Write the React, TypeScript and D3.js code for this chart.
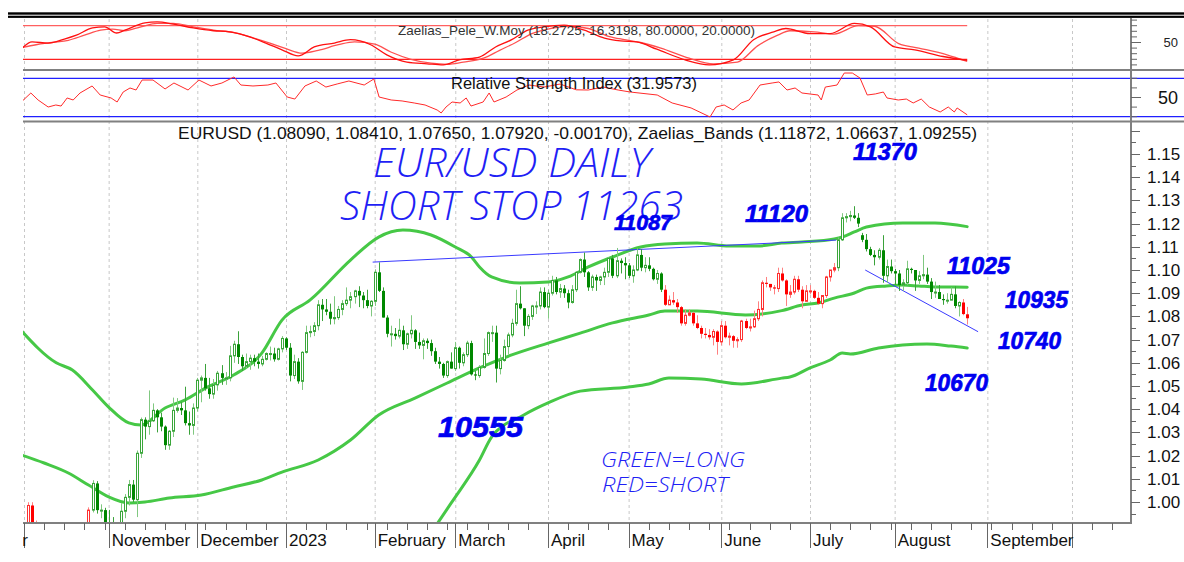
import React from "react";
import * as d3 from "d3";

// ================= DATA =================
// Daily EUR/USD candles [open, high, low, close], one row per weekday starting Mon 3 Oct 2022
const OCT_2022 = [
  [0.9800, 0.9854, 0.9751, 0.9825], [0.9825, 0.9999, 0.9815, 0.9985], [0.9985, 0.9999, 0.9835, 0.9880],
  [0.9880, 0.9920, 0.9780, 0.9793], [0.9793, 0.9826, 0.9731, 0.9740], [0.9740, 0.9747, 0.9670, 0.9700],
  [0.9700, 0.9750, 0.9632, 0.9705], [0.9705, 0.9745, 0.9667, 0.9705], [0.9705, 0.9807, 0.9632, 0.9780],
  [0.9780, 0.9800, 0.9711, 0.9720], [0.9720, 0.9850, 0.9715, 0.9840], [0.9840, 0.9875, 0.9800, 0.9855],
  [0.9855, 0.9862, 0.9760, 0.9775], [0.9775, 0.9845, 0.9760, 0.9780], [0.9780, 0.9870, 0.9705, 0.9860],
  [0.9860, 0.9900, 0.9810, 0.9880], [0.9880, 0.9977, 0.9860, 0.9965], [0.9965, 1.0094, 0.9955, 1.0080],
  [1.0080, 1.0090, 0.9950, 0.9965], [0.9965, 0.9990, 0.9930, 0.9965], [0.9965, 0.9975, 0.9870, 0.9880],
];
const NOV_2022 = [
  [0.9880, 0.9966, 0.9850, 0.9875], [0.9875, 0.9935, 0.9800, 0.9820], [0.9820, 0.9830, 0.9730, 0.9750],
  [0.9750, 0.9995, 0.9745, 0.9960], [0.9960, 1.0034, 0.9930, 1.0020], [1.0020, 1.0095, 0.9985, 1.0075],
  [1.0075, 1.0095, 1.0000, 1.0010], [1.0010, 1.0222, 0.9935, 1.0210], [1.0210, 1.0364, 1.0190, 1.0355],
  [1.0355, 1.0365, 1.0270, 1.0325], [1.0325, 1.0481, 1.0290, 1.0350], [1.0350, 1.0425, 1.0345, 1.0395],
  [1.0395, 1.0400, 1.0300, 1.0365], [1.0365, 1.0385, 1.0305, 1.0325], [1.0325, 1.0330, 1.0225, 1.0245],
  [1.0245, 1.0310, 1.0225, 1.0305], [1.0305, 1.0450, 1.0280, 1.0395], [1.0395, 1.0448, 1.0385, 1.0405],
  [1.0405, 1.0430, 1.0375, 1.0395], [1.0395, 1.0497, 1.0330, 1.0340], [1.0340, 1.0390, 1.0290, 1.0330],
  [1.0330, 1.0425, 1.0290, 1.0405],
];
const DEC_2022 = [
  [1.0405, 1.0535, 1.0390, 1.0525], [1.0525, 1.0545, 1.0430, 1.0535], [1.0535, 1.0595, 1.0480, 1.0490],
  [1.0490, 1.0535, 1.0445, 1.0465], [1.0465, 1.0530, 1.0445, 1.0505], [1.0505, 1.0565, 1.0480, 1.0555],
  [1.0555, 1.0590, 1.0505, 1.0535], [1.0535, 1.0560, 1.0505, 1.0535], [1.0535, 1.0673, 1.0520, 1.0630],
  [1.0630, 1.0695, 1.0600, 1.0680], [1.0680, 1.0736, 1.0595, 1.0625], [1.0625, 1.0635, 1.0565, 1.0585],
  [1.0585, 1.0640, 1.0575, 1.0605], [1.0605, 1.0635, 1.0570, 1.0620], [1.0620, 1.0635, 1.0585, 1.0605],
  [1.0605, 1.0640, 1.0575, 1.0595], [1.0595, 1.0630, 1.0585, 1.0615], [1.0615, 1.0645, 1.0610, 1.0640],
  [1.0640, 1.0670, 1.0610, 1.0640], [1.0640, 1.0665, 1.0605, 1.0615], [1.0615, 1.0665, 1.0610, 1.0660],
  [1.0660, 1.0715, 1.0645, 1.0705],
];
const JAN_2023 = [
  [1.0705, 1.0710, 1.0655, 1.0665], [1.0665, 1.0685, 1.0520, 1.0545], [1.0545, 1.0635, 1.0530, 1.0605],
  [1.0605, 1.0620, 1.0510, 1.0520], [1.0520, 1.0650, 1.0483, 1.0645], [1.0645, 1.0760, 1.0640, 1.0730],
  [1.0730, 1.0760, 1.0710, 1.0735], [1.0735, 1.0775, 1.0715, 1.0760], [1.0760, 1.0870, 1.0740, 1.0850],
  [1.0850, 1.0875, 1.0780, 1.0830], [1.0830, 1.0875, 1.0805, 1.0820], [1.0820, 1.0855, 1.0765, 1.0790],
  [1.0790, 1.0887, 1.0766, 1.0795], [1.0795, 1.0845, 1.0785, 1.0830], [1.0830, 1.0870, 1.0805, 1.0855],
  [1.0855, 1.0925, 1.0845, 1.0870], [1.0870, 1.0905, 1.0835, 1.0885], [1.0885, 1.0915, 1.0855, 1.0910],
  [1.0910, 1.0930, 1.0840, 1.0890], [1.0890, 1.0905, 1.0835, 1.0870], [1.0870, 1.0915, 1.0835, 1.0845],
  [1.0845, 1.0870, 1.0800, 1.0865],
];
const FEB_2023 = [
  [1.0865, 1.1003, 1.0845, 1.0990], [1.0990, 1.1033, 1.0905, 1.0910], [1.0910, 1.0925, 1.0795, 1.0795],
  [1.0795, 1.0805, 1.0710, 1.0725], [1.0725, 1.0760, 1.0670, 1.0725], [1.0725, 1.0750, 1.0700, 1.0715],
  [1.0715, 1.0790, 1.0705, 1.0740], [1.0740, 1.0760, 1.0655, 1.0680], [1.0680, 1.0730, 1.0660, 1.0725],
  [1.0725, 1.0805, 1.0705, 1.0740], [1.0740, 1.0745, 1.0660, 1.0690], [1.0690, 1.0730, 1.0660, 1.0675],
  [1.0675, 1.0705, 1.0615, 1.0695], [1.0695, 1.0705, 1.0660, 1.0685], [1.0685, 1.0700, 1.0630, 1.0650],
  [1.0650, 1.0665, 1.0595, 1.0605], [1.0605, 1.0625, 1.0575, 1.0595], [1.0595, 1.0600, 1.0535, 1.0545],
  [1.0545, 1.0610, 1.0535, 1.0605], [1.0605, 1.0645, 1.0575, 1.0575],
];
const MAR_2023 = [
  [1.0575, 1.0690, 1.0565, 1.0665], [1.0665, 1.0670, 1.0575, 1.0600], [1.0600, 1.0645, 1.0585, 1.0635],
  [1.0635, 1.0695, 1.0625, 1.0685], [1.0685, 1.0695, 1.0545, 1.0550], [1.0550, 1.0565, 1.0525, 1.0545],
  [1.0545, 1.0590, 1.0535, 1.0580], [1.0580, 1.0705, 1.0575, 1.0640], [1.0640, 1.0735, 1.0630, 1.0730],
  [1.0730, 1.0760, 1.0690, 1.0730], [1.0730, 1.0760, 1.0515, 1.0575], [1.0575, 1.0635, 1.0550, 1.0610],
  [1.0610, 1.0700, 1.0605, 1.0670], [1.0670, 1.0730, 1.0635, 1.0720], [1.0720, 1.0790, 1.0710, 1.0770],
  [1.0770, 1.0915, 1.0760, 1.0855], [1.0855, 1.0930, 1.0830, 1.0835], [1.0835, 1.0835, 1.0715, 1.0760],
  [1.0760, 1.0810, 1.0745, 1.0800], [1.0800, 1.0850, 1.0785, 1.0845], [1.0845, 1.0865, 1.0810, 1.0845],
  [1.0845, 1.0925, 1.0830, 1.0905], [1.0905, 1.0925, 1.0835, 1.0840],
];
const APR_2023 = [
  [1.0840, 1.0915, 1.0790, 1.0900], [1.0900, 1.0975, 1.0890, 1.0955], [1.0955, 1.0970, 1.0895, 1.0905],
  [1.0905, 1.0940, 1.0880, 1.0920], [1.0920, 1.0935, 1.0880, 1.0900], [1.0900, 1.0915, 1.0835, 1.0860],
  [1.0860, 1.0935, 1.0855, 1.0915], [1.0915, 1.0995, 1.0905, 1.0990], [1.0990, 1.1050, 1.0985, 1.1045],
  [1.1045, 1.1075, 1.0970, 1.0990], [1.0990, 1.0995, 1.0910, 1.0925], [1.0925, 1.0980, 1.0910, 1.0970],
  [1.0970, 1.0980, 1.0910, 1.0955], [1.0955, 1.0975, 1.0935, 1.0970], [1.0970, 1.1010, 1.0935, 1.0990],
  [1.0990, 1.1055, 1.0970, 1.1050], [1.1050, 1.1065, 1.0965, 1.0975], [1.0975, 1.1095, 1.0965, 1.1040],
  [1.1040, 1.1050, 1.0985, 1.1030], [1.1030, 1.1055, 1.0960, 1.1020],
];
const MAY_2023 = [
  [1.1020, 1.1030, 1.0965, 1.0975], [1.0975, 1.1020, 1.0945, 1.1000], [1.1000, 1.1093, 1.0995, 1.1065],
  [1.1065, 1.1090, 1.0995, 1.1010], [1.1010, 1.1055, 1.0990, 1.1020], [1.1020, 1.1055, 1.0995, 1.1005],
  [1.1005, 1.1010, 1.0955, 1.0960], [1.0960, 1.1000, 1.0940, 1.0985], [1.0985, 1.0990, 1.0905, 1.0915],
  [1.0915, 1.0935, 1.0845, 1.0850], [1.0850, 1.0890, 1.0850, 1.0870], [1.0870, 1.0905, 1.0850, 1.0860],
  [1.0860, 1.0875, 1.0815, 1.0840], [1.0840, 1.0845, 1.0760, 1.0770], [1.0770, 1.0830, 1.0760, 1.0805],
  [1.0805, 1.0830, 1.0800, 1.0815], [1.0815, 1.0820, 1.0760, 1.0770], [1.0770, 1.0805, 1.0745, 1.0750],
  [1.0750, 1.0760, 1.0705, 1.0725], [1.0725, 1.0750, 1.0705, 1.0720], [1.0720, 1.0745, 1.0700, 1.0710],
  [1.0710, 1.0745, 1.0675, 1.0735], [1.0735, 1.0740, 1.0635, 1.0690],
];
const JUN_2023 = [
  [1.0690, 1.0780, 1.0675, 1.0760], [1.0760, 1.0780, 1.0705, 1.0710], [1.0710, 1.0730, 1.0675, 1.0715],
  [1.0715, 1.0720, 1.0665, 1.0695], [1.0695, 1.0710, 1.0665, 1.0700], [1.0700, 1.0785, 1.0690, 1.0780],
  [1.0780, 1.0790, 1.0745, 1.0750], [1.0750, 1.0790, 1.0735, 1.0755], [1.0755, 1.0825, 1.0750, 1.0790],
  [1.0790, 1.0865, 1.0780, 1.0830], [1.0830, 1.0955, 1.0800, 1.0945], [1.0945, 1.0970, 1.0925, 1.0940],
  [1.0940, 1.0940, 1.0910, 1.0925], [1.0925, 1.0935, 1.0895, 1.0920], [1.0920, 1.1010, 1.0905, 1.0985],
  [1.0985, 1.1010, 1.0950, 1.0955], [1.0955, 1.0960, 1.0845, 1.0895], [1.0895, 1.0935, 1.0880, 1.0905],
  [1.0905, 1.0975, 1.0895, 1.0960], [1.0960, 1.0975, 1.0905, 1.0915], [1.0915, 1.0930, 1.0835, 1.0865],
  [1.0865, 1.0935, 1.0865, 1.0910],
];
const JUL_2023 = [
  [1.0910, 1.0935, 1.0895, 1.0910], [1.0910, 1.0915, 1.0875, 1.0880], [1.0880, 1.0905, 1.0850, 1.0855],
  [1.0855, 1.0890, 1.0835, 1.0890], [1.0890, 1.0975, 1.0880, 1.0970], [1.0970, 1.1000, 1.0950, 1.1000],
  [1.1000, 1.1030, 1.0990, 1.1010], [1.1010, 1.1140, 1.0995, 1.1130], [1.1130, 1.1245, 1.1125, 1.1225],
  [1.1225, 1.1245, 1.1205, 1.1230], [1.1230, 1.1255, 1.1210, 1.1235], [1.1235, 1.1275, 1.1220, 1.1225],
  [1.1225, 1.1245, 1.1185, 1.1200], [1.1150, 1.1160, 1.1120, 1.1130], [1.1130, 1.1155, 1.1080, 1.1090],
  [1.1090, 1.1100, 1.1060, 1.1065], [1.1065, 1.1085, 1.1020, 1.1055], [1.1055, 1.1095, 1.1045, 1.1085],
  [1.1085, 1.1150, 1.0945, 1.0975], [1.0975, 1.1045, 1.0945, 1.1015], [1.1015, 1.1045, 1.0985, 1.0995],
];
const AUG_2023 = [
  [1.0995, 1.1005, 1.0935, 1.0985], [1.0985, 1.1000, 1.0910, 1.0935], [1.0935, 1.0960, 1.0910, 1.0945],
  [1.0945, 1.1040, 1.0935, 1.1005], [1.1005, 1.1010, 1.0985, 1.1000], [1.1000, 1.1000, 1.0910, 1.0955],
  [1.0955, 1.0995, 1.0940, 1.0975], [1.0975, 1.1065, 1.0960, 1.0980], [1.0980, 1.1010, 1.0940, 1.0950],
  [1.0950, 1.0965, 1.0875, 1.0905], [1.0905, 1.0950, 1.0880, 1.0905], [1.0905, 1.0935, 1.0875, 1.0875],
  [1.0875, 1.0895, 1.0850, 1.0870], [1.0870, 1.0900, 1.0855, 1.0870], [1.0870, 1.0925, 1.0870, 1.0895],
  [1.0895, 1.0930, 1.0835, 1.0845], [1.0845, 1.0865, 1.0800, 1.0860], [1.0860, 1.0875, 1.0805, 1.0810],
  [1.0809, 1.0841, 1.0765, 1.0792],
];
const CANDLES = [
  ...OCT_2022, ...NOV_2022, ...DEC_2022, ...JAN_2023, ...FEB_2023, ...MAR_2023,
  ...APR_2023, ...MAY_2023, ...JUN_2023, ...JUL_2023, ...AUG_2023,
];

// Periods with a short signal (red candles); otherwise long (green)
const SHORT_PERIODS = [
  ["2022-10-03", "2022-10-25"],
  ["2023-05-12", "2023-07-11"],
  ["2023-08-24", "2023-08-25"],
];

// Zaelias bands: [trading day number, value]
const BAND_UPPER = [
  [-1, 1.0745], [8, 1.06], [12, 1.0569], [17, 1.0483], [21, 1.0409], [26, 1.0341], [29, 1.0332],
  [35, 1.0405], [40, 1.044], [45, 1.0491], [52, 1.0547], [59, 1.0642], [64, 1.0784], [71, 1.0871],
  [81, 1.1043], [88, 1.1142], [94, 1.1172], [101, 1.1151], [107, 1.1099], [111, 1.1056], [113, 1.1013],
  [116, 1.097], [123, 1.0944], [130, 1.0948], [135, 1.097], [140, 1.1013], [146, 1.1056], [153, 1.1099],
  [159, 1.1112], [167, 1.1116], [175, 1.1103], [182, 1.1103], [188, 1.1116], [193, 1.1121],
  [201, 1.1134], [203, 1.1142], [206, 1.1164], [209, 1.1185], [218, 1.1203], [226, 1.1203], [234, 1.1187],
];
const BAND_MIDDLE = [
  [-1, 1.0205], [5, 1.0168], [11, 1.0125], [16, 1.0073], [21, 1.0022], [26, 0.9996], [30, 1.0],
  [36, 1.0017], [44, 1.003], [52, 1.0065], [59, 1.0095], [64, 1.0129], [73, 1.0181], [81, 1.0267],
  [88, 1.0375], [97, 1.0448], [105, 1.0513], [113, 1.0578], [121, 1.0634], [130, 1.0685], [138, 1.0728],
  [146, 1.0772], [155, 1.0806], [159, 1.0823], [167, 1.0823], [179, 1.0806], [188, 1.0825], [193, 1.0849],
  [197, 1.0858], [201, 1.0879], [206, 1.0901], [209, 1.0922], [214, 1.0931], [218, 1.0935], [222, 1.0931],
  [226, 1.0927], [234, 1.0926],
];
const BAND_LOWER = [
  [101.5, 0.988], [106, 0.9996], [113, 1.0181], [116, 1.028], [124, 1.0375], [130, 1.0427], [138, 1.0478],
  [150, 1.0496], [155, 1.0509], [160, 1.0534], [168, 1.053], [178, 1.0509], [188, 1.0534], [190, 1.0539],
  [195, 1.0578], [200, 1.0612], [203, 1.0642], [205, 1.0638], [212, 1.0664], [218, 1.0677], [224, 1.0681],
  [230, 1.0672], [234, 1.0664],
];

// Zaelias_Pele_W.Moy oscillator: [trading day number, value]
const PELE_FAST = [
  [-1, 36], [2, 51], [6, 49], [10, 56], [13, 63], [17, 76], [20, 78], [23, 67], [25, 72], [30, 85],
  [33, 87], [37, 83], [42, 76], [47, 71], [51, 69], [56, 60], [60, 49], [64, 37], [68, 26], [72, 42],
  [77, 49], [81, 55], [86, 46], [90, 28], [95, 15], [100, 12], [104, 10], [108, 19], [113, 24], [117, 42],
  [121, 55], [125, 72], [129, 78], [134, 81], [139, 72], [144, 58], [148, 53], [152, 51], [157, 38],
  [164, 19], [170, 10], [176, 19], [181, 55], [186, 69], [189, 75], [195, 66], [200, 66], [206, 84],
  [210, 78], [216, 42], [221, 37], [228, 25], [234, 18.27],
];
const PELE_SLOW = [
  [-1, 40], [3, 46], [7, 50], [11, 54], [15, 63], [19, 72], [22, 74], [25, 71], [29, 78], [33, 84],
  [37, 84], [42, 78], [47, 72], [52, 68], [57, 58], [61, 49], [65, 39], [69, 31], [73, 36], [78, 46],
  [82, 51], [87, 47], [91, 33], [96, 20], [101, 13], [105, 11], [109, 15], [114, 22], [118, 36], [122, 50],
  [126, 66], [130, 74], [135, 79], [140, 75], [145, 61], [149, 55], [153, 50], [158, 40], [165, 22],
  [171, 12], [177, 15], [182, 44], [187, 63], [190, 71], [196, 69], [201, 65], [207, 80], [211, 79],
  [217, 48], [222, 40], [229, 28], [234, 16.32],
];

// Relative Strength Index: [trading day number, value]
const RSI = [
  [-1, 44], [1.7, 54.7], [3.5, 47.4], [6, 40.1], [7.9, 42.2], [9.2, 41.1], [10.7, 49.5], [12.2, 47.4],
  [13.9, 54.7], [16.9, 62], [18.9, 52.6], [21.6, 49.5], [23.1, 45.3], [24.6, 55.7], [26.3, 59.9],
  [27.8, 57.8], [29.3, 68.2], [32, 68.2], [35, 58.9], [37.2, 65.1], [40.7, 57.8], [43.4, 68.2],
  [46.4, 62], [49.1, 65.1], [52.1, 71.4], [53.8, 63], [56.8, 62], [60.5, 63], [62.5, 65.1], [65.3, 50.5],
  [67.2, 48.4], [69.7, 62], [72.5, 67.2], [74.9, 60.9], [77.7, 64.1], [80.6, 67.2], [84.4, 63],
  [86.8, 69.3], [88.1, 50.5], [91.1, 47.4], [93.8, 46.4], [96.8, 44.3], [99.5, 42.2], [102.5, 37],
  [103.5, 33.9], [104.7, 40.1], [106.2, 45.3], [108.2, 44.3], [109.7, 49.5], [110.9, 41.1], [113.9, 45.3],
  [115.4, 54.7], [116.6, 45.3], [119.6, 50.5], [122.3, 57.8], [125.3, 63], [129, 60.9], [133, 64],
  [137, 58], [140, 57.8], [143.7, 60.9], [147.4, 57.8], [150.4, 55.7], [157.1, 52.6], [160.8, 44.3],
  [165.5, 39.1], [170.2, 29.7], [171.7, 40.1], [173.7, 42.2], [175.9, 37], [177.9, 44.3], [179.9, 47.4],
  [182.6, 63], [185.6, 65.1], [187.3, 66.2], [189.3, 57.8], [191.3, 59.9], [193, 54.7], [197, 52.6],
  [197.8, 47.4], [198.8, 60.9], [201.7, 63], [203.5, 75.5], [205.5, 75.5], [207.4, 70.3], [209.2, 52.6],
  [211.2, 53.7], [213.2, 55.7], [214.1, 49.5], [216.9, 47.4], [218.9, 48.4], [220.6, 44.3], [222.6, 48.4],
  [224.6, 40.1], [227.3, 34.9], [229.3, 40.1], [230.8, 34.9], [231.5, 39.1], [234, 31.96],
];

// Blue trendlines: [[day, value], [day, value]]
const TRENDLINES = [
  [[86.5, 1.1034], [201.5, 1.1129]],
  [[208.7, 1.1], [236.7, 1.0734]],
];

// Axis labels
const MONTHS = [
  ["October", "2022-10-03"], ["November", "2022-11-01"], ["December", "2022-12-01"], ["2023", "2023-01-02"],
  ["February", "2023-02-01"], ["March", "2023-03-01"], ["April", "2023-04-03"], ["May", "2023-05-01"],
  ["June", "2023-06-01"], ["July", "2023-07-03"], ["August", "2023-08-01"], ["September", "2023-09-01"],
  ["", "2023-10-02"],
];
const PRICE_TICKS = [1.0, 1.01, 1.02, 1.03, 1.04, 1.05, 1.06, 1.07, 1.08, 1.09, 1.1, 1.11, 1.12, 1.13, 1.14, 1.15];
const PELE_LEVELS = [80, 20];
const RSI_LEVELS = [70, 30];

const HEADER = "EURUSD (1.08090, 1.08410, 1.07650, 1.07920, -0.00170), Zaelias_Bands (1.11872, 1.06637, 1.09255)";
const PELE_TITLE = "Zaelias_Pele_W.Moy (18.2725, 16.3198, 80.0000, 20.0000)";
const RSI_TITLE = "Relative Strength Index (31.9573)";

// ================= HELPERS =================
function tradingDay(s: string): number {
  const [Y, M, D] = s.split("-").map(Number);
  const days = Math.round((Date.UTC(Y, M - 1, D) - Date.UTC(2022, 9, 3)) / 86400000);
  return Math.floor(days / 7) * 5 + Math.min(days % 7, 5);
}

const PLOT_L = 23;
const AXIS_X = 1131;
const MAIN_TOP = 122;
const MAIN_BOT = 523;

export default function App() {
  const x = d3.scaleLinear().domain([0, 260]).range([24, 1072]);
  const y = d3.scaleLinear().domain([1.0, 1.15]).range([502, 154]);
  const yP = d3.scaleLinear().domain([20, 80]).range([59.3, 25.7]);
  const yR = d3.scaleLinear().domain([30, 70]).range([116.7, 78.3]);

  const bandLine = d3.line<number[]>().x((d) => x(d[0])).y((d) => y(d[1])).curve(d3.curveMonotoneX);
  const peleLine = d3.line<number[]>().x((d) => x(d[0])).y((d) => yP(d[1])).curve(d3.curveMonotoneX);
  const rsiLine = d3.line<number[]>().x((d) => x(d[0])).y((d) => yR(d[1]));

  const shortRanges = SHORT_PERIODS.map(([a, b]) => [tradingDay(a), tradingDay(b)]);
  const isShort = (i: number) => shortRanges.some(([a, b]) => i >= a && i <= b);

  const monthTicks = MONTHS.map(([label, d]) => ({ label, i: tradingDay(d) }));
  const weekTicks = d3.range(0, 275, 5).filter((i) => x(i) < AXIS_X - 2);
  const minorPrice = d3.range(0.99, 1.161, 0.005).filter((v) => y(v) > MAIN_TOP + 2 && y(v) < MAIN_BOT);

  const font = "'Liberation Sans', Arial, sans-serif";
  const hand = "'Open Sans', 'DejaVu Sans', sans-serif";
  const blue = "#1f1ff5";

  const boldNums = [
    { t: "11370", x: 853, y: 160, w: 64, s: 23 },
    { t: "11120", x: 745, y: 222, w: 63, s: 23 },
    { t: "11087", x: 614, y: 230, w: 58, s: 22 },
    { t: "11025", x: 947, y: 274, w: 63, s: 23 },
    { t: "10935", x: 1005, y: 308, w: 63, s: 23 },
    { t: "10740", x: 998, y: 349, w: 63, s: 23 },
    { t: "10670", x: 925, y: 391, w: 63, s: 23 },
    { t: "10555", x: 438, y: 437, w: 85, s: 30 },
  ];

  return (
    <svg width={1184} height={562} style={{ position: "absolute", left: 0, top: 0, background: "#fff" }}>
      <defs>
        <clipPath id="mainClip"><rect x={PLOT_L} y={MAIN_TOP + 1} width={AXIS_X - PLOT_L - 1} height={MAIN_BOT - MAIN_TOP - 2} /></clipPath>
        <clipPath id="peleClip"><rect x={PLOT_L} y={18} width={AXIS_X - PLOT_L - 1} height={51} /></clipPath>
        <clipPath id="rsiClip"><rect x={PLOT_L} y={71} width={AXIS_X - PLOT_L - 1} height={50} /></clipPath>
        <clipPath id="labelClip"><rect x={PLOT_L} y={MAIN_BOT} width={1184 - PLOT_L} height={40} /></clipPath>
      </defs>
      <rect x={0} y={0} width={1184} height={562} fill="#fff" />

      {/* top black double rule */}
      <rect x={8} y={12.3} width={1176} height={2.4} fill="#000" />
      <rect x={8} y={15.7} width={1176} height={2.2} fill="#000" />

      {/* month grid */}
      {monthTicks.map((m, k) => (
        <line key={"g" + k} x1={x(m.i) + 0.5} x2={x(m.i) + 0.5} y1={19} y2={MAIN_BOT} stroke="#c8c8c8" strokeDasharray="3,3" />
      ))}

      {/* ===== Pele panel ===== */}
      <g clipPath="url(#peleClip)">
        {PELE_LEVELS.map((lv, k) => (
          <line key={k} x1={PLOT_L} x2={x(234)} y1={yP(lv)} y2={yP(lv)} stroke={k === 0 ? "#ff6060" : "#ff2020"} strokeWidth={1.3} />
        ))}
        <path d={peleLine(PELE_SLOW) || ""} fill="none" stroke="#ff5050" strokeWidth={1.3} />
        <path d={peleLine(PELE_FAST) || ""} fill="none" stroke="#ff1010" strokeWidth={1.3} />
      </g>
      <text x={398} y={34.5} fontFamily={font} fontSize={13.5} fill="#333" textLength={357} lengthAdjust="spacingAndGlyphs">{PELE_TITLE}</text>
      <line x1={PLOT_L} x2={1184} y1={70} y2={70} stroke="#808080" strokeWidth={2} />

      {/* ===== RSI panel ===== */}
      {RSI_LEVELS.map((lv, k) => (
        <line key={k} x1={PLOT_L} x2={1184} y1={yR(lv)} y2={yR(lv)} stroke="#2020ff" strokeWidth={1.2} />
      ))}
      <g clipPath="url(#rsiClip)">
        <path d={rsiLine(RSI) || ""} fill="none" stroke="#ff2a2a" strokeWidth={1} />
      </g>
      <text x={451} y={88.5} fontFamily={font} fontSize={16.5} fill="#111" textLength={246} lengthAdjust="spacingAndGlyphs">{RSI_TITLE}</text>
      <line x1={PLOT_L} x2={1184} y1={121.5} y2={121.5} stroke="#808080" strokeWidth={2} />

      {/* ===== Main panel ===== */}
      <text x={178} y={139} fontFamily={font} fontSize={17} fill="#111" textLength={799} lengthAdjust="spacingAndGlyphs">{HEADER}</text>

      <g clipPath="url(#mainClip)">
        {[BAND_LOWER, BAND_MIDDLE, BAND_UPPER].map((b, k) => (
          <path key={k} d={bandLine(b) || ""} fill="none" stroke="#46c846" strokeWidth={3} strokeLinecap="round" />
        ))}
        {TRENDLINES.map((t, k) => (
          <line key={k} x1={x(t[0][0])} y1={y(t[0][1])} x2={x(t[1][0])} y2={y(t[1][1])} stroke="#3a3aff" strokeWidth={1} />
        ))}
        {CANDLES.map((c, i) => {
          const [o, h, l, cl] = c;
          const r = Math.round(x(i));
          const up = cl >= o;
          const red = isShort(i);
          const wick = red ? "#ff8080" : up ? "#80c880" : "#3aa23a";
          const body = red ? (up ? "#ff3030" : "#ff0000") : up ? "#3aa63a" : "#008800";
          const top = y(Math.max(o, cl));
          const hgt = Math.max(1, Math.abs(y(o) - y(cl)));
          return (
            <g key={i}>
              <line x1={r + 0.5} x2={r + 0.5} y1={y(h)} y2={y(l)} stroke={wick} strokeWidth={1} />
              {up ? (
                <rect x={r - 0.5} y={top} width={2} height={hgt} fill="#fff" stroke={body} strokeWidth={1} />
              ) : (
                <rect x={r - 1} y={top} width={3} height={hgt} fill={body} />
              )}
            </g>
          );
        })}
      </g>

      {/* handwritten annotations */}
      <text x={373} y={177} fontFamily={hand} fontStyle="italic" fontWeight={300} fontSize={40} fill={blue} textLength={277} lengthAdjust="spacingAndGlyphs">EUR/USD DAILY</text>
      <text x={340} y={220} fontFamily={hand} fontStyle="italic" fontWeight={300} fontSize={40} fill={blue} textLength={343} lengthAdjust="spacingAndGlyphs">SHORT STOP 11263</text>
      <text x={601} y={467} fontFamily={hand} fontStyle="italic" fontWeight={300} fontSize={21} fill={blue} textLength={144} lengthAdjust="spacingAndGlyphs">GREEN=LONG</text>
      <text x={602} y={492} fontFamily={hand} fontStyle="italic" fontWeight={300} fontSize={21} fill={blue} textLength={126} lengthAdjust="spacingAndGlyphs">RED=SHORT</text>
      {boldNums.map((b, k) => (
        <text key={k} x={b.x} y={b.y} fontFamily={font} fontStyle="italic" fontWeight={900} fontSize={b.s} fill="#0000f0" stroke="#0000f0" strokeWidth={0.7} textLength={b.w} lengthAdjust="spacingAndGlyphs">{b.t}</text>
      ))}

      {/* ===== axes ===== */}
      <line x1={AXIS_X} x2={AXIS_X} y1={18} y2={MAIN_BOT + 1} stroke="#808080" strokeWidth={2} />
      <line x1={PLOT_L} x2={AXIS_X + 1} y1={MAIN_BOT} y2={MAIN_BOT} stroke="#808080" strokeWidth={2} />

      {/* price axis */}
      {minorPrice.map((v, k) => {
        const major = Math.abs(Math.round(v * 100) - v * 100) < 1e-6;
        return <line key={k} x1={AXIS_X} x2={AXIS_X + (major ? 9 : 5)} y1={Math.round(y(v)) + 0.5} y2={Math.round(y(v)) + 0.5} stroke="#666" />;
      })}
      {PRICE_TICKS.map((v, k) => (
        <text key={k} x={1147} y={y(v) + 6} fontFamily={font} fontSize={17} fill="#111">{v.toFixed(2)}</text>
      ))}

      {/* pele axis */}
      {d3.range(10, 100, 10).map((v) => (
        <line key={v} x1={AXIS_X} x2={AXIS_X + (v === 50 ? 10 : 6)} y1={yP(v)} y2={yP(v)} stroke="#666" />
      ))}
      <text x={1178} y={yP(50) + 4.5} textAnchor="end" fontFamily={font} fontSize={13} fill="#222">50</text>
      {/* rsi axis */}
      {d3.range(30, 71, 10).map((v) => (
        <line key={v} x1={AXIS_X} x2={AXIS_X + (v === 50 ? 10 : 6)} y1={yR(v)} y2={yR(v)} stroke="#666" />
      ))}
      <text x={1178} y={yR(50) + 6} textAnchor="end" fontFamily={font} fontSize={18} fill="#111">50</text>

      {/* date axis */}
      {weekTicks.map((i) => (
        <line key={"w" + i} x1={Math.round(x(i)) + 0.5} x2={Math.round(x(i)) + 0.5} y1={MAIN_BOT} y2={MAIN_BOT + 7} stroke="#666" />
      ))}
      {monthTicks.map((m, k) => (
        <line key={"m" + k} x1={Math.round(x(m.i)) + 0.5} x2={Math.round(x(m.i)) + 0.5} y1={MAIN_BOT} y2={MAIN_BOT + 25} stroke="#666" />
      ))}
      <g clipPath="url(#labelClip)">
        {monthTicks.map((m, k) =>
          k === 0 ? (
            <text key={"l" + k} x={x(m.i) + 4} y={546} textAnchor="end" fontFamily={font} fontSize={17} fill="#111">{m.label}</text>
          ) : (
            <text key={"l" + k} x={x(m.i) + 3} y={546} fontFamily={font} fontSize={17} fill="#111">{m.label}</text>
          )
        )}
      </g>
    </svg>
  );
}
